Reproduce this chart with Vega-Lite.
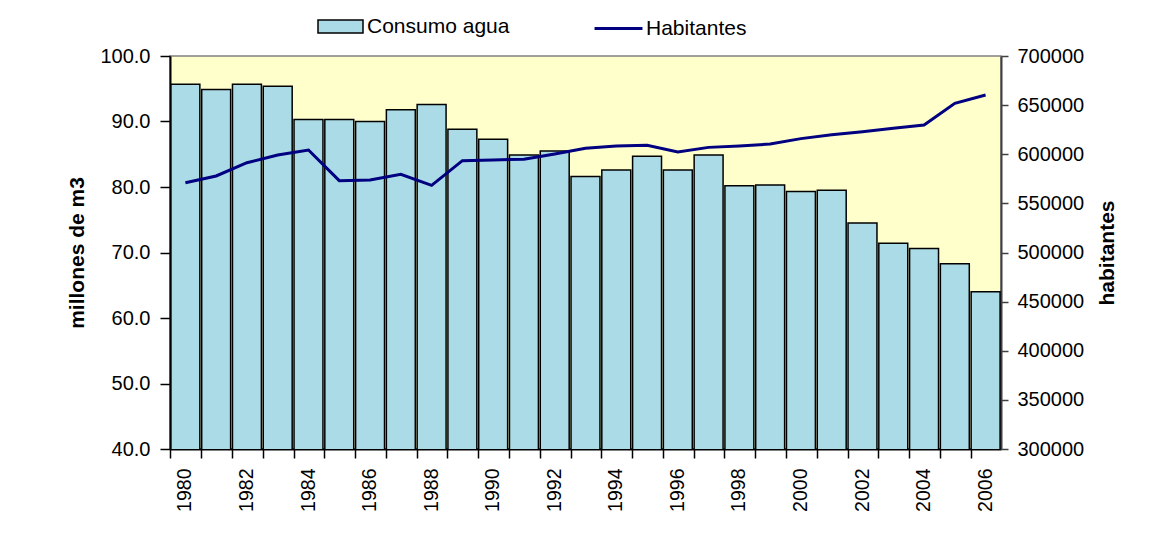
{
  "$schema": "https://vega.github.io/schema/vega-lite/v6.json",
  "width": 831,
  "height": 393,
  "autosize": "none",
  "padding": {"left": 170, "top": 56, "right": 167, "bottom": 91},
  "background": "#ffffff",
  "view": {"fill": "#ffffcc", "stroke": "#808080", "strokeWidth": 1.5},
  "config": {
    "font": "Liberation Sans",
    "axis": {"labelColor": "#000000", "titleColor": "#000000", "labelFont": "Liberation Sans", "titleFont": "Liberation Sans", "grid": false},
    "legend": {"labelFont": "Liberation Sans", "labelColor": "#000000"}
  },
  "data": {
    "values": [
      {"year": 1980, "consumo": 95.7, "habitantes": 571000},
      {"year": 1981, "consumo": 94.9, "habitantes": 577900},
      {"year": 1982, "consumo": 95.7, "habitantes": 591400},
      {"year": 1983, "consumo": 95.4, "habitantes": 599200},
      {"year": 1984, "consumo": 90.3, "habitantes": 604300},
      {"year": 1985, "consumo": 90.3, "habitantes": 573100},
      {"year": 1986, "consumo": 90.0, "habitantes": 573800},
      {"year": 1987, "consumo": 91.8, "habitantes": 579600},
      {"year": 1988, "consumo": 92.6, "habitantes": 568400},
      {"year": 1989, "consumo": 88.8, "habitantes": 593500},
      {"year": 1990, "consumo": 87.3, "habitantes": 594200},
      {"year": 1991, "consumo": 84.9, "habitantes": 595000},
      {"year": 1992, "consumo": 85.5, "habitantes": 600300},
      {"year": 1993, "consumo": 81.6, "habitantes": 606000},
      {"year": 1994, "consumo": 82.6, "habitantes": 608400},
      {"year": 1995, "consumo": 84.7, "habitantes": 609100},
      {"year": 1996, "consumo": 82.6, "habitantes": 602300},
      {"year": 1997, "consumo": 84.9, "habitantes": 607000},
      {"year": 1998, "consumo": 80.2, "habitantes": 608400},
      {"year": 1999, "consumo": 80.3, "habitantes": 610400},
      {"year": 2000, "consumo": 79.3, "habitantes": 615900},
      {"year": 2001, "consumo": 79.5, "habitantes": 619900},
      {"year": 2002, "consumo": 74.5, "habitantes": 623000},
      {"year": 2003, "consumo": 71.4, "habitantes": 626400},
      {"year": 2004, "consumo": 70.6, "habitantes": 629800},
      {"year": 2005, "consumo": 68.3, "habitantes": 651900},
      {"year": 2006, "consumo": 64.0, "habitantes": 660300}
    ]
  },
  "encoding": {
    "x": {
      "field": "year",
      "type": "ordinal",
      "scale": {"paddingInner": 0.06, "paddingOuter": 0.03},
      "axis": {
        "title": null,
        "bandPosition": 0,
        "labelOffset": 0,
        "labelAngle": 270,
        "labelFontSize": 19.5,
        "labelPadding": 10,
        "labelExpr": "datum.value % 2 == 0 ? datum.label : ''",
        "tickSize": 9,
        "tickColor": "#000000",
        "tickWidth": 1.5,
        "domainColor": "#000000",
        "domainWidth": 2,
        "labelOverlap": false
      }
    }
  },
  "layer": [
    {
      "mark": {"type": "bar", "stroke": "#000000", "strokeWidth": 1.5, "clip": true},
      "encoding": {
        "y": {
          "field": "consumo",
          "type": "quantitative",
          "scale": {"domain": [40, 100], "zero": false, "nice": false},
          "axis": {
            "title": "millones de m3",
            "titleFontSize": 21,
            "titleFontWeight": "bold",
            "titlePadding": 12,
            "values": [40, 50, 60, 70, 80, 90, 100],
            "format": ".1f",
            "labelFontSize": 20,
            "labelPadding": 10,
            "tickSize": 10,
            "tickColor": "#000000",
            "tickWidth": 1.5,
            "domainColor": "#000000",
            "domainWidth": 2
          }
        },
        "fill": {
          "datum": "Consumo agua",
          "type": "nominal",
          "scale": {"range": ["#aadbe6"]},
          "legend": {
            "title": null,
            "orient": "none",
            "legendX": 147,
            "legendY": -53,
            "padding": 0,
            "symbolType": "M-1,-0.29H1V0.29H-1Z",
            "symbolSize": 2025,
            "symbolStrokeColor": "#000000",
            "symbolStrokeWidth": 1.5,
            "symbolOpacity": 1,
            "labelFontSize": 21,
            "labelOffset": 3
          }
        }
      }
    },
    {
      "mark": {"type": "line", "strokeWidth": 3},
      "encoding": {
        "y": {
          "field": "habitantes",
          "type": "quantitative",
          "scale": {"domain": [300000, 700000], "zero": false, "nice": false},
          "axis": {
            "orient": "right",
            "title": "habitantes",
            "titleAngle": 270,
            "titleFontSize": 21,
            "titleFontWeight": "bold",
            "titlePadding": 34,
            "values": [300000, 350000, 400000, 450000, 500000, 550000, 600000, 650000, 700000],
            "format": "d",
            "labelFontSize": 20,
            "labelPadding": 9,
            "tickSize": 7,
            "tickColor": "#404040",
            "tickWidth": 1.5,
            "domainColor": "#404040",
            "domainWidth": 2
          }
        },
        "stroke": {
          "datum": "Habitantes",
          "type": "nominal",
          "scale": {"range": ["#000080"]},
          "legend": {
            "title": null,
            "orient": "none",
            "legendX": 423,
            "legendY": -53,
            "padding": 0,
            "symbolType": "stroke",
            "symbolSize": 2300,
            "symbolStrokeWidth": 3,
            "labelFontSize": 21,
            "labelOffset": 2
          }
        }
      }
    }
  ],
  "resolve": {"scale": {"y": "independent"}}
}
